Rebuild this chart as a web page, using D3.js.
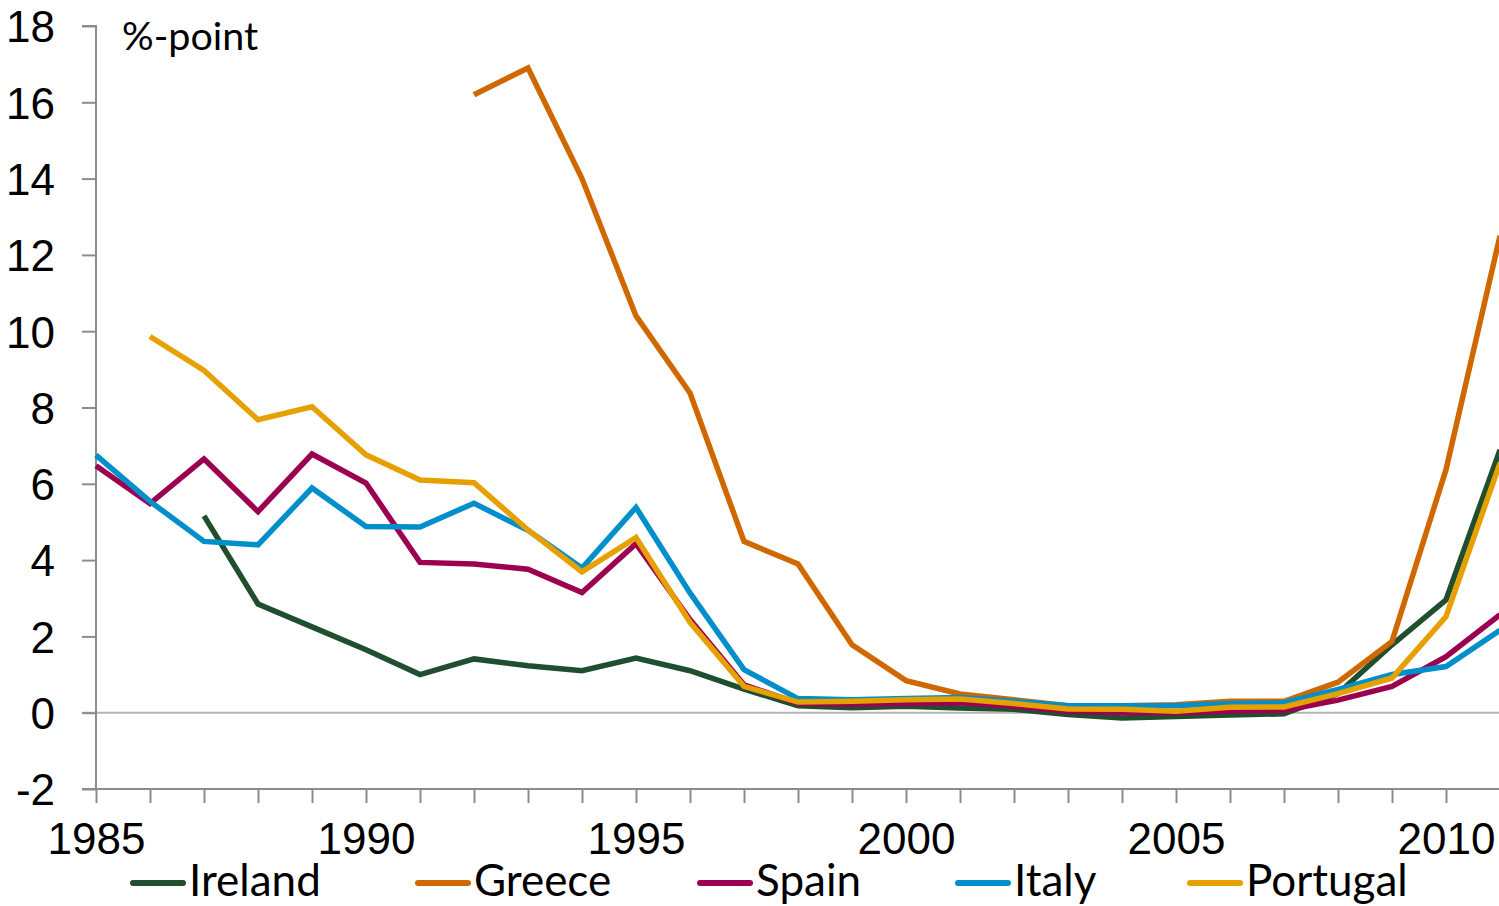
<!DOCTYPE html>
<html>
<head>
<meta charset="utf-8">
<script src="https://cdn.jsdelivr.net/npm/d3@7"></script>
<style>
  html, body { margin: 0; padding: 0; background: #fff; }
  svg { display: block; }
</style>
</head>
<body>
<svg id="chart" width="1499" height="906"></svg>
<script>
const years = d3.range(1985, 2012);
const seriesNames = ["Ireland", "Greece", "Spain", "Italy", "Portugal"];
const seriesColors = ["#1f4f2f", "#d06800", "#9c0050", "#008fca", "#e6a000"];

const ireland = [null, null, 5.16, 2.85, 2.25, 1.65, 1.0, 1.41, 1.23, 1.10, 1.43, 1.10, 0.62, 0.18, 0.13, 0.17, 0.12, 0.09, -0.05, -0.14, -0.10, -0.06, -0.03, 0.50, 1.78, 2.96, 6.89];
const greece = [null, null, null, null, null, null, null, 16.2, 16.9, 14.0, 10.4, 8.38, 4.49, 3.9, 1.78, 0.84, 0.49, 0.34, 0.18, 0.18, 0.21, 0.30, 0.30, 0.80, 1.87, 6.37, 12.5];
const spain = [6.47, 5.48, 6.65, 5.27, 6.78, 6.02, 3.94, 3.90, 3.76, 3.15, 4.43, 2.44, 0.73, 0.25, 0.22, 0.24, 0.26, 0.17, 0.04, 0.0, 0.0, 0.04, 0.06, 0.33, 0.69, 1.47, 2.57];
const italy = [6.75, 5.54, 4.49, 4.40, 5.89, 4.88, 4.87, 5.49, 4.78, 3.79, 5.38, 3.14, 1.13, 0.37, 0.34, 0.37, 0.40, 0.30, 0.18, 0.18, 0.18, 0.24, 0.26, 0.61, 1.0, 1.21, 2.16];
const portugal = [null, 9.86, 8.97, 7.68, 8.02, 6.76, 6.10, 6.03, 4.79, 3.69, 4.59, 2.37, 0.69, 0.28, 0.30, 0.34, 0.36, 0.24, 0.10, 0.09, 0.04, 0.14, 0.15, 0.50, 0.91, 2.52, 6.54];

const yTicks = [-2, 0, 2, 4, 6, 8, 10, 12, 14, 16, 18];
const xLabelYears = [1985, 1990, 1995, 2000, 2005, 2010];
const unitLabel = "%-point";

const seriesValues = [ireland, greece, spain, italy, portugal];

const svg = d3.select("#chart");
const axisColor = "#8c8c8c";
const tickFont = "'Liberation Sans Narrow', 'Liberation Sans', sans-serif";
const textFont = "Lato, 'Open Sans', sans-serif";

const x = d3.scaleLinear().domain([1985, 2011]).range([96, 1500]);
const y = d3.scaleLinear().domain([-2, 18]).range([789, 26]);

// zero line
svg.append("line")
  .attr("x1", 82).attr("x2", 1499)
  .attr("y1", y(0)).attr("y2", y(0))
  .attr("stroke", "#b3b3b3").attr("stroke-width", 2);

// y axis
const yAxis = d3.axisLeft(y).tickValues(yTicks).tickSize(14).tickPadding(27).tickFormat(d => String(d));
const gy = svg.append("g").attr("transform", `translate(${x(1985)},0)`).call(yAxis);
gy.select(".domain").attr("stroke", axisColor).attr("stroke-width", 2).attr("d", `M-14,${y(18)}H0V${y(-2)}`);
gy.selectAll(".tick line").attr("stroke", axisColor).attr("stroke-width", 2);
gy.selectAll(".tick text")
  .attr("fill", "#000")
  .style("font-family", tickFont)
  .style("font-size", "44px")
  .attr("dy", "0.36em");

// x axis
const xAxis = d3.axisBottom(x).tickValues(d3.range(1985, 2011)).tickSize(14).tickFormat(d => xLabelYears.includes(d) ? String(d) : "").tickPadding(20);
const gx = svg.append("g").attr("transform", `translate(0,${y(-2)})`).call(xAxis);
gx.select(".domain").attr("stroke", axisColor).attr("stroke-width", 2).attr("d", `M82,0H1499`);
gx.selectAll(".tick line").attr("stroke", axisColor).attr("stroke-width", 2);
gx.selectAll(".tick text")
  .attr("fill", "#000")
  .style("font-family", tickFont)
  .style("font-size", "44px")
  .attr("dy", "0.71em");

// unit label
svg.append("text")
  .attr("x", 122).attr("y", 50)
  .style("font-family", textFont)
  .style("font-size", "39.5px")
  .attr("fill", "#000")
  .text(unitLabel);

// lines
const line = d3.line()
  .defined(d => d.v !== null)
  .x(d => x(d.year))
  .y(d => y(d.v));

seriesNames.forEach((name, i) => {
  const data = years.map((yr, j) => ({ year: yr, v: seriesValues[i][j] }));
  svg.append("path")
    .datum(data)
    .attr("fill", "none")
    .attr("stroke", seriesColors[i])
    .attr("stroke-width", 5.5)
    .attr("stroke-linejoin", "miter")
    .attr("d", line);
});

// legend
const legendX = [130, 415, 697, 955, 1187];
const legend = svg.append("g");
seriesNames.forEach((name, i) => {
  const g = legend.append("g").attr("transform", `translate(${legendX[i]},883)`);
  g.append("line").attr("x1", 3).attr("x2", 53).attr("y1", 0).attr("y2", 0)
    .attr("stroke", seriesColors[i]).attr("stroke-width", 6).attr("stroke-linecap", "round");
  g.append("text").attr("x", 59).attr("y", 13)
    .style("font-family", textFont)
    .style("font-size", "44px")
    .attr("fill", "#000")
    .text(name);
});
</script>
</body>
</html>
